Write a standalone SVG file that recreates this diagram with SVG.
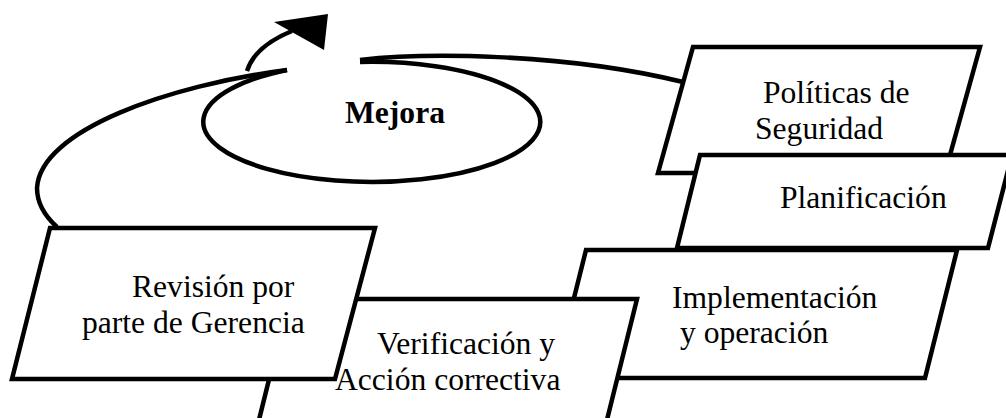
<svg xmlns="http://www.w3.org/2000/svg" width="1006" height="418" viewBox="0 0 1006 418">
<style>
.box{fill:#fff;stroke:#000;stroke-width:4.5;stroke-linejoin:miter}
.ln{fill:none;stroke:#000;stroke-width:4.5;stroke-linecap:butt}
.t{font-family:"Liberation Serif","Times New Roman",serif;font-size:31.6px;fill:#000}
.b{font-weight:bold}
</style>
<rect width="1006" height="418" fill="#fff"/>
<g id="connectors">
<path class="ln" d="M360,60 C420,53 560,52 683,82"/>
<path class="ln" d="M287,70 C170,85 40,130 37,188 C37,205 47,218 57,227"/>
<path class="ln" d="M247,71 C252,55 265,42 292,31"/>
<polygon points="274,22 328,14 324,50" fill="#000"/>
</g>
<g id="mejora">
<path class="ln" d="M360,62 A168.5,60 0 1 1 287,70"/>
<text class="t b" x="345" y="123">Mejora</text>
</g>
<g id="politicas">
<polygon class="box" points="693,47 980,47 945,173 658,173"/>
<text class="t" x="763" y="103">Políticas de</text>
<text class="t" x="755" y="139">Seguridad</text>
</g>
<g id="planificacion">
<polygon class="box" points="700,155 1012,155 988,248 677,248"/>
<text class="t" x="780" y="208">Planificación</text>
</g>
<g id="implementacion">
<polygon class="box" points="586,250 957,250 925,378 554,378"/>
<text class="t" x="672" y="308">Implementación</text>
<text class="t" x="680" y="343">y operación</text>
</g>
<g id="verificacion">
<polygon class="box" points="289,299 637,299 602,440 254,440"/>
<text class="t" x="377" y="354">Verificación y</text>
<text class="t" x="335" y="390">Acción correctiva</text>
</g>
<g id="revision">
<polygon class="box" points="50,228 375,228 335,379 12,379"/>
<text class="t" x="132" y="297">Revisión por</text>
<text class="t" x="82" y="333">parte de Gerencia</text>
</g>
</svg>
